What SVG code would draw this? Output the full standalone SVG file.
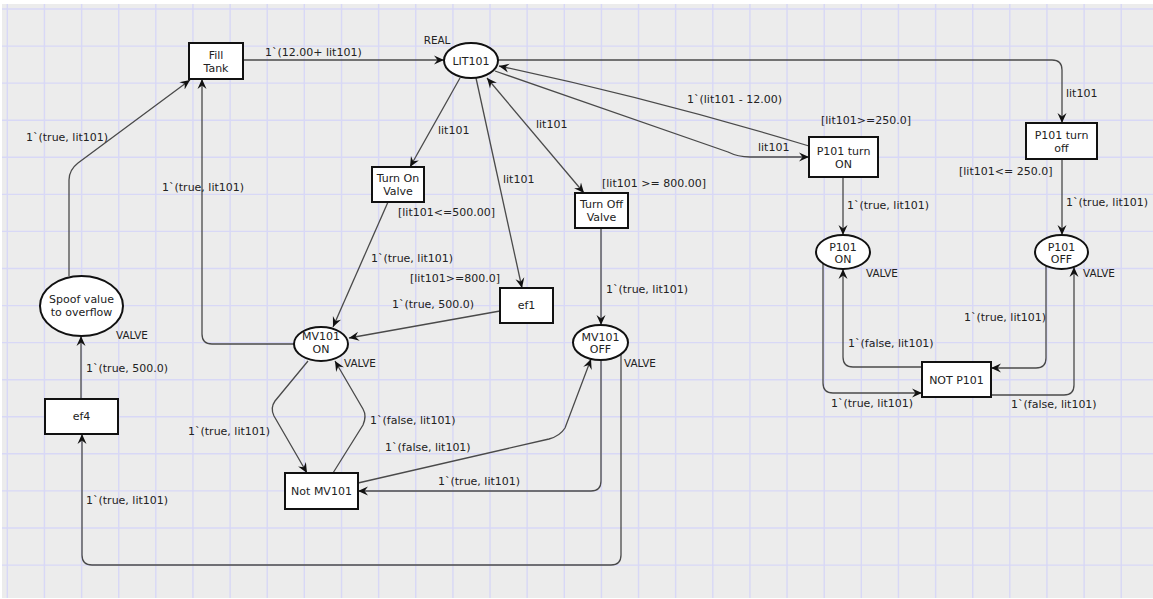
<svg xmlns="http://www.w3.org/2000/svg" width="1153" height="599" viewBox="0 0 1153 599">
  <style>
    text { font-family: "DejaVu Sans", "Liberation Sans", sans-serif; font-size: 11px; fill: #222; }
    .type { font-size: 10.4px; }
    .node text { text-anchor: middle; }
    .node rect, .node ellipse { fill: #fff; stroke: #111; stroke-width: 2; }
    .arc { fill: none; stroke: #4a4a4a; stroke-width: 1.3; }
    .grid { fill: none; stroke: #d8d8f6; stroke-width: 1.4; }
  </style>
  <defs>
    <marker id="arr" viewBox="0 0 10 10" refX="10" refY="5" markerWidth="10" markerHeight="10" markerUnits="userSpaceOnUse" orient="auto-start-reverse">
      <path d="M0,0.5 L10,5 L0,9.5 L3.5,5 Z" fill="#111"/>
    </marker>
  </defs>

  <!-- canvas -->
  <rect x="0" y="0" width="1153" height="599" fill="#fff"/>
  <rect x="2" y="4" width="1151" height="594" fill="#ececec"/>
  <path class="grid" d="M7.3,4V598 M44.4,4V598 M81.6,4V598 M118.7,4V598 M155.8,4V598 M192.9,4V598 M230.1,4V598 M267.2,4V598 M304.3,4V598 M341.5,4V598 M378.6,4V598 M415.7,4V598 M452.9,4V598 M490,4V598 M527.1,4V598 M564.3,4V598 M601.4,4V598 M638.5,4V598 M675.6,4V598 M712.8,4V598 M749.9,4V598 M787,4V598 M824.2,4V598 M861.3,4V598 M898.4,4V598 M935.6,4V598 M972.7,4V598 M1009.8,4V598 M1046.9,4V598 M1084.1,4V598 M1121.2,4V598
    M2,9H1153 M2,46.1H1153 M2,83.1H1153 M2,120.2H1153 M2,157.3H1153 M2,194.4H1153 M2,231.4H1153 M2,268.5H1153 M2,305.6H1153 M2,342.6H1153 M2,379.7H1153 M2,416.8H1153 M2,453.8H1153 M2,490.9H1153 M2,528H1153 M2,565.1H1153"/>

  <!-- arcs -->
  <g id="arcs">
    <path class="arc" marker-end="url(#arr)" d="M243,60 L444,60"/>
    <path class="arc" marker-end="url(#arr)" d="M498,60 L1052,60 Q1062,60 1062,70 L1062,123"/>
    <path class="arc" marker-end="url(#arr)" d="M495,71 L728,152 Q738,157 750,157 L809,157"/>
    <path class="arc" marker-end="url(#arr)" d="M809,146 Q650,98 499,66"/>
    <path class="arc" marker-end="url(#arr)" d="M460,78 L410,167"/>
    <path class="arc" marker-end="url(#arr)" d="M476,78 L522,288"/>
    <path class="arc" marker-start="url(#arr)" marker-end="url(#arr)" d="M487,78 L584,193"/>
    <path class="arc" marker-end="url(#arr)" d="M601,228 L601,325"/>
    <path class="arc" marker-end="url(#arr)" d="M388,202 L333,327"/>
    <path class="arc" marker-end="url(#arr)" d="M500,311 L349,338"/>
    <path class="arc" marker-end="url(#arr)" d="M294,344 L212,344 Q202,344 202,334 L202,79"/>
    <path class="arc" marker-end="url(#arr)" d="M69,276 L69,180 Q69,170 78,163 L190,80"/>
    <path class="arc" marker-end="url(#arr)" d="M81,399 L81,336"/>
    <path class="arc" marker-end="url(#arr)" d="M621,354 L621,555 Q621,565 611,565 L92,565 Q82,565 82,555 L82,434"/>
    <path class="arc" marker-end="url(#arr)" d="M601,360 L601,481 Q601,491 591,491 L358,491"/>
    <path class="arc" marker-end="url(#arr)" d="M358,483 L549,439 Q560,436 565,428 L591,359"/>
    <path class="arc" marker-end="url(#arr)" d="M308,361 L275,401 Q270,408 274,416 L307,473"/>
    <path class="arc" marker-end="url(#arr)" d="M333,473 L363,425 Q367,416 363,409 L335,361"/>
    <path class="arc" marker-end="url(#arr)" d="M843,177 L843,235"/>
    <path class="arc" marker-end="url(#arr)" d="M1062,159 L1062,235"/>
    <path class="arc" marker-end="url(#arr)" d="M823,263 L823,383 Q823,393 833,393 L922,393"/>
    <path class="arc" marker-end="url(#arr)" d="M922,367 L853,367 Q843,367 843,357 L843,269"/>
    <path class="arc" marker-end="url(#arr)" d="M1046,266 L1046,358 Q1046,368 1036,368 L991,368"/>
    <path class="arc" marker-end="url(#arr)" d="M991,395 L1064,395 Q1074,395 1074,385 L1074,267"/>

    <!-- arc inscriptions and guards -->
    <text x="265" y="56">1`(12.00+ lit101)</text>
    <text x="1066" y="97">lit101</text>
    <text x="959" y="175">[lit101&lt;= 250.0]</text>
    <text x="821" y="124">[lit101&gt;=250.0]</text>
    <text x="687" y="103">1`(lit101 - 12.00)</text>
    <text x="758" y="151">lit101</text>
    <text x="438" y="134">lit101</text>
    <text x="503" y="183">lit101</text>
    <text x="536" y="128">lit101</text>
    <text x="602" y="187">[lit101 &gt;= 800.00]</text>
    <text x="398" y="216">[lit101&lt;=500.00]</text>
    <text x="371" y="262">1`(true, lit101)</text>
    <text x="410" y="282">[lit101&gt;=800.0]</text>
    <text x="392" y="308">1`(true, 500.0)</text>
    <text x="606" y="293">1`(true, lit101)</text>
    <text x="162" y="191">1`(true, lit101)</text>
    <text x="26" y="141">1`(true, lit101)</text>
    <text x="86" y="372">1`(true, 500.0)</text>
    <text x="86" y="504">1`(true, lit101)</text>
    <text x="438" y="485">1`(true, lit101)</text>
    <text x="385" y="451">1`(false, lit101)</text>
    <text x="188" y="435">1`(true, lit101)</text>
    <text x="370" y="424">1`(false, lit101)</text>
    <text x="847" y="209">1`(true, lit101)</text>
    <text x="1066" y="206">1`(true, lit101)</text>
    <text x="831" y="407">1`(true, lit101)</text>
    <text x="848" y="347">1`(false, lit101)</text>
    <text x="964" y="321">1`(true, lit101)</text>
    <text x="1011" y="408">1`(false, lit101)</text>
  </g>

  <!-- places -->
  <g id="LIT101" class="node">
    <ellipse cx="471" cy="60.5" rx="27" ry="17.5"/>
    <text x="471" y="65">LIT101</text>
    <text class="type" x="437" y="44">REAL</text>
  </g>
  <g id="MV101_ON" class="node">
    <ellipse cx="321" cy="344" rx="27" ry="17"/>
    <text x="321" y="340">MV101</text>
    <text x="321" y="352.5">ON</text>
    <text class="type" x="360" y="367">VALVE</text>
  </g>
  <g id="MV101_OFF" class="node">
    <ellipse cx="600.5" cy="342.5" rx="27.5" ry="17.5"/>
    <text x="600.5" y="341">MV101</text>
    <text x="600.5" y="352.5">OFF</text>
    <text class="type" x="640" y="367">VALVE</text>
  </g>
  <g id="Spoof" class="node">
    <ellipse cx="81.5" cy="306" rx="41.5" ry="30"/>
    <text x="81.5" y="303">Spoof value</text>
    <text x="81.5" y="316">to overflow</text>
    <text class="type" x="132" y="339">VALVE</text>
  </g>
  <g id="P101_ON" class="node">
    <ellipse cx="843" cy="252" rx="27" ry="17"/>
    <text x="843" y="251">P101</text>
    <text x="843" y="262.5">ON</text>
    <text class="type" x="882" y="277">VALVE</text>
  </g>
  <g id="P101_OFF" class="node">
    <ellipse cx="1061.5" cy="252" rx="26.5" ry="17"/>
    <text x="1061.5" y="251">P101</text>
    <text x="1061.5" y="262.5">OFF</text>
    <text class="type" x="1099" y="277">VALVE</text>
  </g>

  <!-- transitions -->
  <g id="FillTank" class="node">
    <rect x="189" y="43" width="54" height="36"/>
    <text x="216" y="58.5">Fill</text>
    <text x="216" y="71.5">Tank</text>
  </g>
  <g id="TurnOnValve" class="node">
    <rect x="372" y="167" width="52" height="35"/>
    <text x="398" y="182">Turn On</text>
    <text x="398" y="195">Valve</text>
  </g>
  <g id="TurnOffValve" class="node">
    <rect x="575" y="193" width="53" height="35"/>
    <text x="601.5" y="208">Turn Off</text>
    <text x="601.5" y="220.5">Valve</text>
  </g>
  <g id="ef1" class="node">
    <rect x="500" y="288" width="53" height="35"/>
    <text x="526.5" y="309">ef1</text>
  </g>
  <g id="ef4" class="node">
    <rect x="45" y="399" width="73" height="35"/>
    <text x="81.5" y="420">ef4</text>
  </g>
  <g id="NotMV101" class="node">
    <rect x="285" y="473" width="73" height="36"/>
    <text x="321.5" y="495">Not MV101</text>
  </g>
  <g id="P101TurnOn" class="node">
    <rect x="809" y="137" width="69" height="40"/>
    <text x="843.5" y="155">P101 turn</text>
    <text x="843.5" y="167.5">ON</text>
  </g>
  <g id="P101TurnOff" class="node">
    <rect x="1026" y="123" width="71" height="36"/>
    <text x="1061.5" y="138.5">P101 turn</text>
    <text x="1061.5" y="151.5">off</text>
  </g>
  <g id="NotP101" class="node">
    <rect x="922" y="362" width="69" height="35"/>
    <text x="956.5" y="384">NOT P101</text>
  </g>
</svg>
